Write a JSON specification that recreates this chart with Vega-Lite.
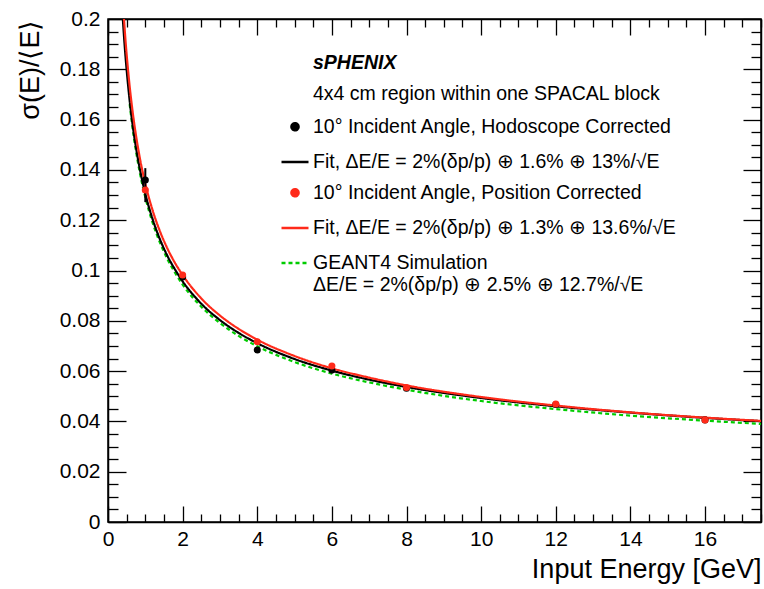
{
  "$schema": "https://vega.github.io/schema/vega-lite/v6.json",
  "width": 653,
  "height": 503,
  "autosize": {"type": "none"},
  "padding": {"left": 108, "top": 19, "right": 3, "bottom": 67},
  "background": "white",
  "config": {
    "font": "Liberation Sans",
    "view": {"stroke": "black", "strokeWidth": 1.5},
    "axis": {"grid": false}
  },
  "title": {
    "text": "sPHENIX",
    "subtitle": "4x4 cm region within one SPACAL block",
    "anchor": "start",
    "frame": "group",
    "orient": "top",
    "offset": 0,
    "dx": 205,
    "dy": 96,
    "font": "Liberation Sans",
    "fontSize": 19.5,
    "fontStyle": "italic",
    "fontWeight": "bold",
    "color": "black",
    "subtitleFont": "Liberation Sans",
    "subtitleFontSize": 19.5,
    "subtitleColor": "black",
    "subtitlePadding": 11
  },
  "datasets": {
    "curves": [
      {"E": 0.58, "v": 0.1662, "s": "geant"},
      {"E": 0.7, "v": 0.1522, "s": "geant"},
      {"E": 0.8, "v": 0.1431, "s": "geant"},
      {"E": 0.9, "v": 0.1355, "s": "geant"},
      {"E": 1.0, "v": 0.1291, "s": "geant"},
      {"E": 1.2, "v": 0.1188, "s": "geant"},
      {"E": 1.4, "v": 0.1108, "s": "geant"},
      {"E": 1.6, "v": 0.1043, "s": "geant"},
      {"E": 1.8, "v": 0.0990, "s": "geant"},
      {"E": 2.0, "v": 0.0944, "s": "geant"},
      {"E": 2.5, "v": 0.0856, "s": "geant"},
      {"E": 3.0, "v": 0.0791, "s": "geant"},
      {"E": 3.5, "v": 0.0740, "s": "geant"},
      {"E": 4.0, "v": 0.0699, "s": "geant"},
      {"E": 5.0, "v": 0.0636, "s": "geant"},
      {"E": 6.0, "v": 0.0590, "s": "geant"},
      {"E": 7.0, "v": 0.0555, "s": "geant"},
      {"E": 8.0, "v": 0.0526, "s": "geant"},
      {"E": 10.0, "v": 0.0481, "s": "geant"},
      {"E": 12.0, "v": 0.0449, "s": "geant"},
      {"E": 14.0, "v": 0.0423, "s": "geant"},
      {"E": 16.0, "v": 0.0403, "s": "geant"},
      {"E": 17.5, "v": 0.0390, "s": "geant"},
      {"E": 0.35, "v": 0.2125, "s": "fit_hodo"},
      {"E": 0.4, "v": 0.1995, "s": "fit_hodo"},
      {"E": 0.45, "v": 0.1888, "s": "fit_hodo"},
      {"E": 0.55, "v": 0.1719, "s": "fit_hodo"},
      {"E": 0.65, "v": 0.1590, "s": "fit_hodo"},
      {"E": 0.75, "v": 0.1489, "s": "fit_hodo"},
      {"E": 0.85, "v": 0.1406, "s": "fit_hodo"},
      {"E": 1.0, "v": 0.1305, "s": "fit_hodo"},
      {"E": 1.2, "v": 0.1202, "s": "fit_hodo"},
      {"E": 1.4, "v": 0.1121, "s": "fit_hodo"},
      {"E": 1.6, "v": 0.1056, "s": "fit_hodo"},
      {"E": 1.8, "v": 0.1003, "s": "fit_hodo"},
      {"E": 2.0, "v": 0.0957, "s": "fit_hodo"},
      {"E": 2.5, "v": 0.0868, "s": "fit_hodo"},
      {"E": 3.0, "v": 0.0803, "s": "fit_hodo"},
      {"E": 3.5, "v": 0.0752, "s": "fit_hodo"},
      {"E": 4.0, "v": 0.0711, "s": "fit_hodo"},
      {"E": 5.0, "v": 0.0648, "s": "fit_hodo"},
      {"E": 6.0, "v": 0.0602, "s": "fit_hodo"},
      {"E": 7.0, "v": 0.0566, "s": "fit_hodo"},
      {"E": 8.0, "v": 0.0537, "s": "fit_hodo"},
      {"E": 10.0, "v": 0.0493, "s": "fit_hodo"},
      {"E": 12.0, "v": 0.0460, "s": "fit_hodo"},
      {"E": 14.0, "v": 0.0435, "s": "fit_hodo"},
      {"E": 16.0, "v": 0.0414, "s": "fit_hodo"},
      {"E": 17.5, "v": 0.0401, "s": "fit_hodo"},
      {"E": 0.38, "v": 0.2117, "s": "fit_pos"},
      {"E": 0.45, "v": 0.1953, "s": "fit_pos"},
      {"E": 0.55, "v": 0.1777, "s": "fit_pos"},
      {"E": 0.65, "v": 0.1643, "s": "fit_pos"},
      {"E": 0.75, "v": 0.1537, "s": "fit_pos"},
      {"E": 0.85, "v": 0.1450, "s": "fit_pos"},
      {"E": 1.0, "v": 0.1345, "s": "fit_pos"},
      {"E": 1.2, "v": 0.1237, "s": "fit_pos"},
      {"E": 1.4, "v": 0.1153, "s": "fit_pos"},
      {"E": 1.6, "v": 0.1085, "s": "fit_pos"},
      {"E": 1.8, "v": 0.1029, "s": "fit_pos"},
      {"E": 2.0, "v": 0.0982, "s": "fit_pos"},
      {"E": 2.5, "v": 0.0889, "s": "fit_pos"},
      {"E": 3.0, "v": 0.0821, "s": "fit_pos"},
      {"E": 3.5, "v": 0.0768, "s": "fit_pos"},
      {"E": 4.0, "v": 0.0725, "s": "fit_pos"},
      {"E": 5.0, "v": 0.0660, "s": "fit_pos"},
      {"E": 6.0, "v": 0.0611, "s": "fit_pos"},
      {"E": 7.0, "v": 0.0574, "s": "fit_pos"},
      {"E": 8.0, "v": 0.0543, "s": "fit_pos"},
      {"E": 10.0, "v": 0.0497, "s": "fit_pos"},
      {"E": 12.0, "v": 0.0463, "s": "fit_pos"},
      {"E": 14.0, "v": 0.0436, "s": "fit_pos"},
      {"E": 16.0, "v": 0.0415, "s": "fit_pos"},
      {"E": 17.5, "v": 0.0402, "s": "fit_pos"}
    ],
    "points": [
      {"E": 1, "v": 0.136, "s": "pt_hodo"},
      {"E": 2, "v": 0.0974, "s": "pt_hodo"},
      {"E": 4, "v": 0.0684, "s": "pt_hodo"},
      {"E": 6, "v": 0.0604, "s": "pt_hodo"},
      {"E": 8, "v": 0.0532, "s": "pt_hodo"},
      {"E": 12, "v": 0.0467, "s": "pt_hodo"},
      {"E": 16, "v": 0.0406, "s": "pt_hodo"},
      {"E": 1, "v": 0.132, "s": "pt_pos"},
      {"E": 2, "v": 0.0982, "s": "pt_pos"},
      {"E": 4, "v": 0.0717, "s": "pt_pos"},
      {"E": 6, "v": 0.0620, "s": "pt_pos"},
      {"E": 8, "v": 0.0535, "s": "pt_pos"},
      {"E": 12, "v": 0.0469, "s": "pt_pos"},
      {"E": 16, "v": 0.0406, "s": "pt_pos"}
    ],
    "errbars": [
      {"E": 1, "lo": 0.1272, "hi": 0.1407}
    ]
  },
  "layer": [
    {
      "data": {"name": "curves"},
      "mark": {"type": "line", "strokeWidth": 2.2, "clip": true, "interpolate": "monotone"},
      "encoding": {
        "x": {
          "field": "E", "type": "quantitative",
          "scale": {"domain": [0, 17.5], "nice": false, "zero": false},
          "axis": {
            "orient": "bottom",
            "values": [0,0.5,1,1.5,2,2.5,3,3.5,4,4.5,5,5.5,6,6.5,7,7.5,8,8.5,9,9.5,10,10.5,11,11.5,12,12.5,13,13.5,14,14.5,15,15.5,16,16.5,17,17.5],
            "format": "~g",
            "labelExpr": "datum.value % 2 == 0 ? datum.label : ''",
            "tickSize": {"condition": {"test": "datum.value % 2 == 0", "value": -16}, "value": -8},
            "tickColor": "black", "tickWidth": 1.3,
            "domainColor": "black", "domainWidth": 1.5,
            "labelFont": "Liberation Sans", "labelFontSize": 21, "labelColor": "black",
            "labelPadding": 22, "labelFlush": false, "labelOverlap": false,
            "title": "Input Energy [GeV]",
            "titleFont": "Liberation Sans", "titleFontSize": 27, "titleFontWeight": "normal",
            "titleColor": "black", "titleAnchor": "end", "titlePadding": -1
          }
        },
        "y": {
          "field": "v", "type": "quantitative",
          "scale": {"domain": [0, 0.2], "nice": false, "zero": false},
          "axis": {
            "orient": "left",
            "values": [0,0.005,0.01,0.015,0.02,0.025,0.03,0.035,0.04,0.045,0.05,0.055,0.06,0.065,0.07,0.075,0.08,0.085,0.09,0.095,0.1,0.105,0.11,0.115,0.12,0.125,0.13,0.135,0.14,0.145,0.15,0.155,0.16,0.165,0.17,0.175,0.18,0.185,0.19,0.195,0.2],
            "format": "~g",
            "labelExpr": "abs(datum.value*50 - round(datum.value*50)) < 0.001 ? datum.label : ''",
            "tickSize": {"condition": {"test": "abs(datum.value*50 - round(datum.value*50)) < 0.001", "value": -18}, "value": -10},
            "tickColor": "black", "tickWidth": 1.3,
            "domainColor": "black", "domainWidth": 1.5,
            "labelFont": "Liberation Sans", "labelFontSize": 21, "labelColor": "black",
            "labelPadding": 26, "labelFlush": false, "labelOverlap": false,
            "title": "σ(E)/⟨E⟩",
            "titleFont": "Liberation Sans", "titleFontSize": 27, "titleFontWeight": "normal",
            "titleColor": "black", "titleAnchor": "end", "titlePadding": 15
          }
        },
        "color": {
          "field": "s", "type": "nominal",
          "scale": {"domain": ["pt_hodo", "fit_hodo", "pt_pos", "fit_pos", "geant"], "range": ["black", "black", "#ff2a1a", "#ff2a1a", "#00cc00"]},
          "legend": {
            "orient": "none", "legendX": 172, "legendY": 98, "title": null,
            "labelFont": "Liberation Sans", "labelFontSize": 19.5, "labelColor": "black",
            "labelLimit": 600, "labelOffset": 3, "rowPadding": 10, "padding": 0,
            "symbolStrokeWidth": 2.5, "symbolOpacity": 1,
            "labelExpr": "datum.label == 'pt_hodo' ? '10° Incident Angle, Hodoscope Corrected' : datum.label == 'fit_hodo' ? 'Fit, ΔE/E = 2%(δp/p) ⊕ 1.6% ⊕ 13%/√E' : datum.label == 'pt_pos' ? '10° Incident Angle, Position Corrected' : datum.label == 'fit_pos' ? 'Fit, ΔE/E = 2%(δp/p) ⊕ 1.3% ⊕ 13.6%/√E' : ['GEANT4 Simulation', 'ΔE/E = 2%(δp/p) ⊕ 2.5% ⊕ 12.7%/√E']"
          }
        },
        "strokeDash": {
          "field": "s", "type": "nominal",
          "scale": {"domain": ["pt_hodo", "fit_hodo", "pt_pos", "fit_pos", "geant"], "range": [[1, 0], [1, 0], [1, 0], [1, 0], [4, 3]]}
        }
      }
    },
    {
      "data": {"name": "errbars"},
      "mark": {"type": "rule", "color": "black", "strokeWidth": 2},
      "encoding": {
        "x": {"field": "E", "type": "quantitative", "axis": null},
        "y": {"field": "lo", "type": "quantitative", "axis": null},
        "y2": {"field": "hi"}
      }
    },
    {
      "data": {"name": "points"},
      "mark": {"type": "point", "filled": true, "opacity": 1, "clip": true},
      "encoding": {
        "x": {
          "field": "E", "type": "quantitative",
          "axis": {
            "orient": "top",
            "values": [0,0.5,1,1.5,2,2.5,3,3.5,4,4.5,5,5.5,6,6.5,7,7.5,8,8.5,9,9.5,10,10.5,11,11.5,12,12.5,13,13.5,14,14.5,15,15.5,16,16.5,17,17.5],
            "labels": false, "title": null,
            "tickSize": {"condition": {"test": "datum.value % 2 == 0", "value": -16}, "value": -8},
            "tickColor": "black", "tickWidth": 1.3,
            "domainColor": "black", "domainWidth": 1.5
          }
        },
        "y": {
          "field": "v", "type": "quantitative",
          "axis": {
            "orient": "right",
            "values": [0,0.005,0.01,0.015,0.02,0.025,0.03,0.035,0.04,0.045,0.05,0.055,0.06,0.065,0.07,0.075,0.08,0.085,0.09,0.095,0.1,0.105,0.11,0.115,0.12,0.125,0.13,0.135,0.14,0.145,0.15,0.155,0.16,0.165,0.17,0.175,0.18,0.185,0.19,0.195,0.2],
            "labels": false, "title": null,
            "tickSize": {"condition": {"test": "abs(datum.value*50 - round(datum.value*50)) < 0.001", "value": -18}, "value": -10},
            "tickColor": "black", "tickWidth": 1.3,
            "domainColor": "black", "domainWidth": 1.5
          }
        },
        "color": {"field": "s", "type": "nominal"},
        "shape": {
          "field": "s", "type": "nominal",
          "scale": {"domain": ["pt_hodo", "fit_hodo", "pt_pos", "fit_pos", "geant"], "range": ["circle", "stroke", "circle", "stroke", "stroke"]}
        },
        "size": {
          "field": "s", "type": "nominal",
          "scale": {"type": "ordinal", "domain": ["pt_hodo", "fit_hodo", "pt_pos", "fit_pos", "geant"], "range": [50, 729, 50, 729, 729]}
        }
      }
    }
  ],
  "resolve": {"axis": {"x": "independent", "y": "independent"}}
}
